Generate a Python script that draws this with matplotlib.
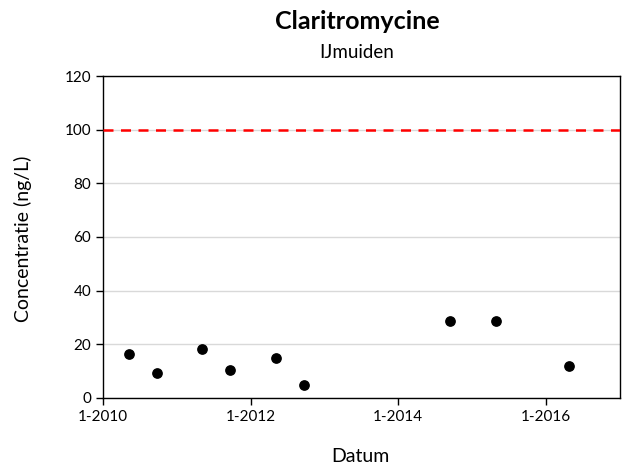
import matplotlib
matplotlib.use('Agg')
import matplotlib.pyplot as plt
import matplotlib.dates as mdates
import numpy as np
import pandas as pd

# ── Data ──────────────────────────────────────────────────────────────────────
dates = ['2010-05-10', '2010-09-25', '2011-05-05', '2011-09-20', '2012-05-05',
         '2012-09-22', '2014-09-12', '2015-04-27', '2016-04-25']
conc = [16.5, 9.4, 18.4, 10.4, 14.8, 4.7, 28.8, 28.8, 11.8]
norm = 100  # ng/L

x_ticks = ['2010-01-01', '2012-01-01', '2014-01-01', '2016-01-01']
y_ticks = [0, 20, 40, 60, 80, 100, 120]

plt.rcParams['font.family'] = ['Lato', 'DejaVu Sans']

fig = plt.figure(figsize=(6.23, 4.68), dpi=100)
ax = fig.add_axes([0.1653, 0.1496, 0.8297, 0.688])

d = pd.to_datetime(dates)
ax.scatter(d, conc, s=45, color='black', zorder=4)
ax.axhline(norm, color='#ff0000', lw=1.8, linestyle=(0, (4, 3)), zorder=3)

ax.set_ylim(0, 120)
ax.set_yticks(y_ticks)
ax.set_xlim(pd.Timestamp('2010-01-01'), pd.Timestamp('2017-01-01'))
ax.set_xticks(pd.to_datetime(x_ticks))
ax.xaxis.set_major_formatter(mdates.DateFormatter('%-m-%Y'))

ax.grid(axis='y', color='#d9d9d9', lw=1.0, zorder=1)
ax.set_axisbelow(True)
for s in ax.spines.values():
    s.set_edgecolor('black')
    s.set_linewidth(1.0)
ax.tick_params(axis='both', labelsize=11, length=5, width=1, direction='out')

ax.set_xlabel('Datum', fontsize=14, va='center')
ax.xaxis.set_label_coords(0.497, -0.183)
ax.set_ylabel('Concentratie (ng/L)', fontsize=14, va='center')
ax.yaxis.set_label_coords(-0.155, 0.494)

fig.text(0.573, 0.953, 'Claritromycine', ha='center', va='center',
         fontsize=18, fontweight='bold')
fig.text(0.573, 0.887, 'IJmuiden', ha='center', va='center', fontsize=13.5)

fig.savefig('out.png', dpi=100)
